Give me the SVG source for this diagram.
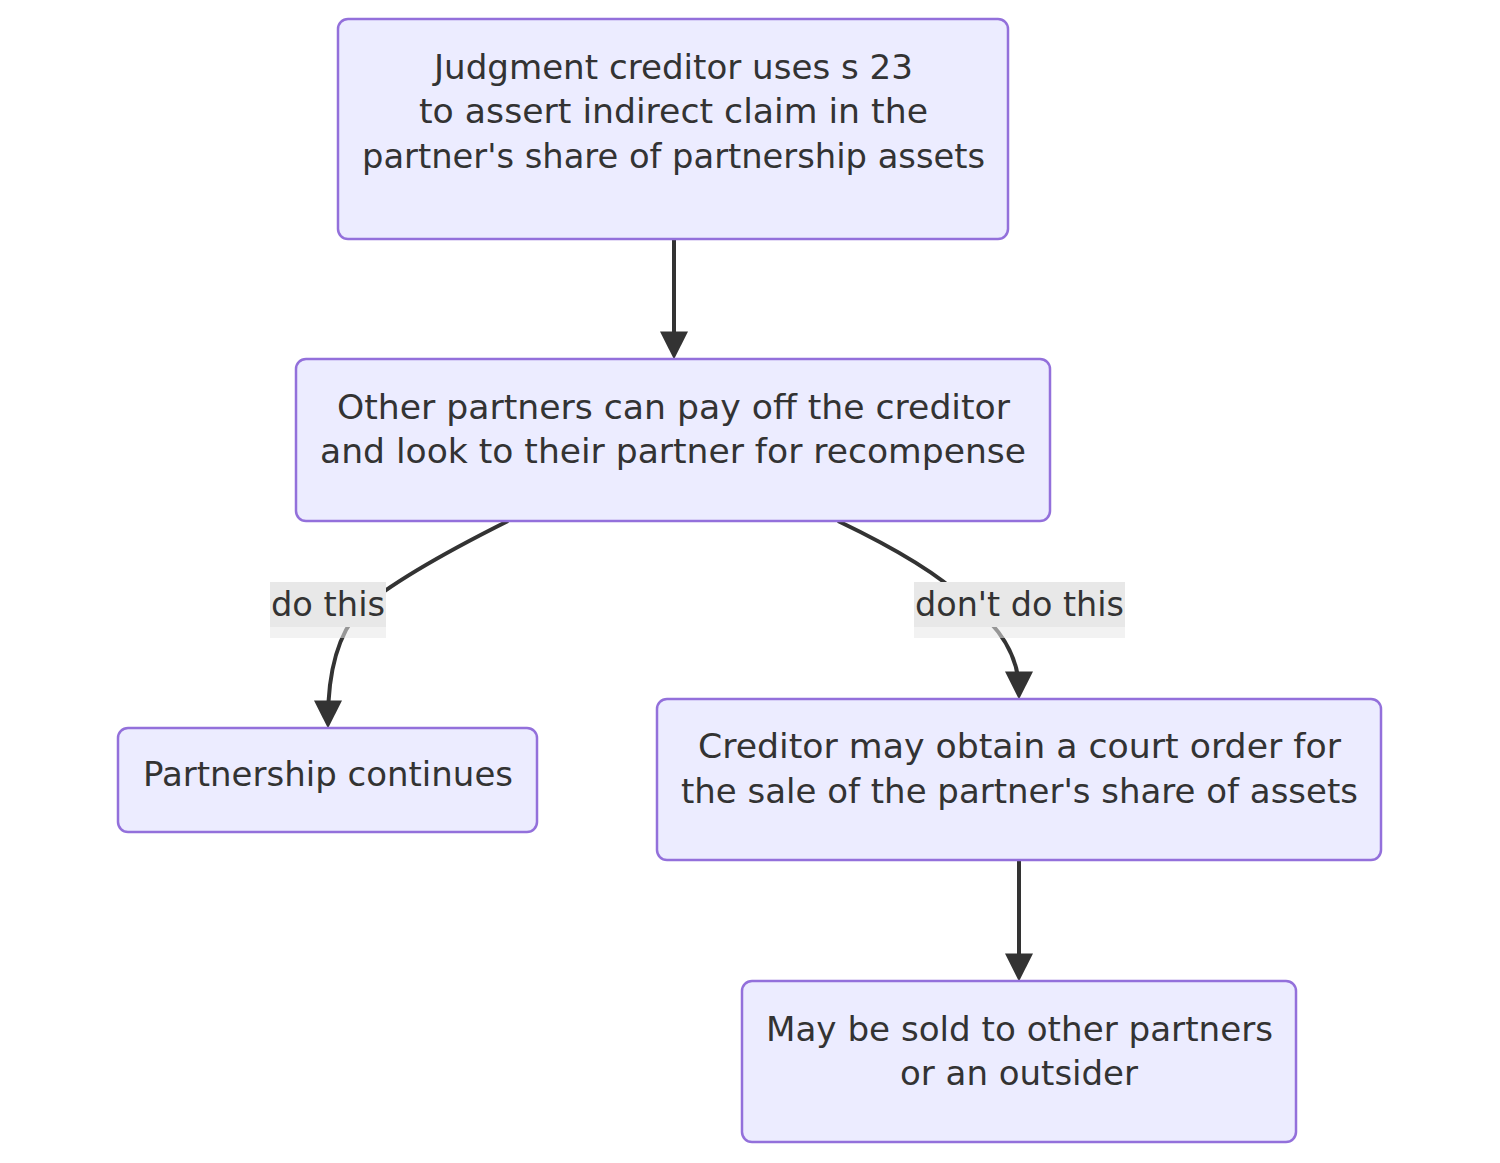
<svg xmlns="http://www.w3.org/2000/svg" width="1500" height="1163" viewBox="0 0 1500 1163">
<style>
.node rect{fill:#ECECFF;stroke:#9370DB;stroke-width:2.5}
text{font-family:"DejaVu Sans",Verdana,sans-serif;font-size:34px;fill:#333;text-anchor:middle}
.edge{fill:none;stroke:#333;stroke-width:4}
.lbl{fill:#e8e8e8}
.lbl2{fill:#e8e8e8;opacity:0.55}
</style>
<defs>
<marker id="arrow" viewBox="0 0 10 10" refX="7" refY="5" markerUnits="userSpaceOnUse" markerWidth="28" markerHeight="28" orient="auto">
<path d="M0,0 L10,5 L0,10 z" fill="#333"/>
</marker>
</defs>
<rect width="1500" height="1163" fill="#fff"/>
<g id="edges">
<path class="edge" d="M674,239 L674,351" marker-end="url(#arrow)"/>
<path class="edge" d="M508,521 Q400,575 360,610 Q328,645 328,720" marker-end="url(#arrow)"/>
<path class="edge" d="M838,521 Q930,565 965,600 Q1019,640 1019,691" marker-end="url(#arrow)"/>
<path class="edge" d="M1019,860 L1019,973" marker-end="url(#arrow)"/>
</g>
<g id="edge-labels">
<g id="label-do-this">
<rect class="lbl" x="270" y="582" width="116" height="45"/>
<rect class="lbl2" x="270" y="627" width="116" height="11"/>
<text x="328" y="616" textLength="114" lengthAdjust="spacingAndGlyphs">do this</text>
</g>
<g id="label-dont-do-this">
<rect class="lbl" x="914" y="582" width="211" height="45"/>
<rect class="lbl2" x="914" y="627" width="211" height="11"/>
<text x="1019.5" y="616" textLength="209" lengthAdjust="spacingAndGlyphs">don't do this</text>
</g>
</g>
<g id="A" class="node">
<rect x="338" y="19" width="670" height="220" rx="10"/>
<text x="673.5" y="79" textLength="479" lengthAdjust="spacingAndGlyphs">Judgment creditor uses s 23</text>
<text x="673.5" y="123" textLength="509" lengthAdjust="spacingAndGlyphs">to assert indirect claim in the</text>
<text x="673.5" y="168" textLength="623" lengthAdjust="spacingAndGlyphs">partner's share of partnership assets</text>
</g>
<g id="B" class="node">
<rect x="296" y="359" width="754" height="162" rx="10"/>
<text x="673.5" y="419" textLength="673" lengthAdjust="spacingAndGlyphs">Other partners can pay off the creditor</text>
<text x="673" y="463" textLength="706" lengthAdjust="spacingAndGlyphs">and look to their partner for recompense</text>
</g>
<g id="C" class="node">
<rect x="118" y="728" width="419" height="104" rx="10"/>
<text x="328" y="786" textLength="370" lengthAdjust="spacingAndGlyphs">Partnership continues</text>
</g>
<g id="D" class="node">
<rect x="657" y="699" width="724" height="161" rx="10"/>
<text x="1019.5" y="758" textLength="643" lengthAdjust="spacingAndGlyphs">Creditor may obtain a court order for</text>
<text x="1019.5" y="803" textLength="677" lengthAdjust="spacingAndGlyphs">the sale of the partner's share of assets</text>
</g>
<g id="E" class="node">
<rect x="742" y="981" width="554" height="161" rx="10"/>
<text x="1019.5" y="1041" textLength="507" lengthAdjust="spacingAndGlyphs">May be sold to other partners</text>
<text x="1019" y="1085" textLength="238" lengthAdjust="spacingAndGlyphs">or an outsider</text>
</g>
</svg>
